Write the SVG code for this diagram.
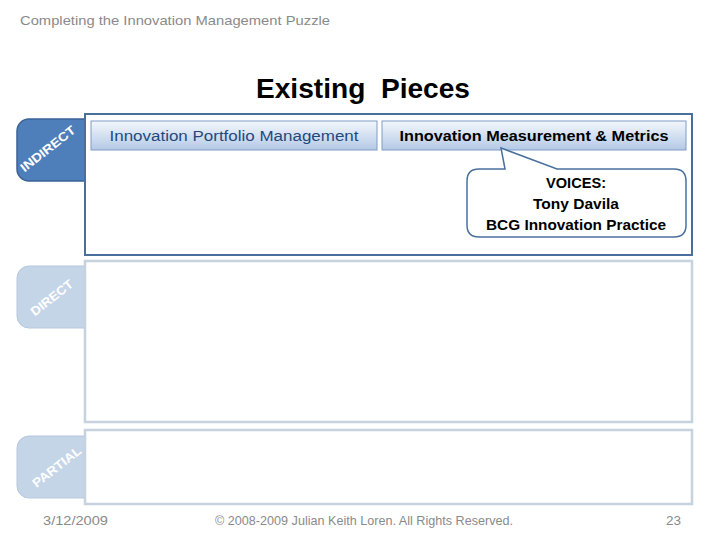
<svg xmlns="http://www.w3.org/2000/svg" width="728" height="546" viewBox="0 0 728 546">
<defs>
<linearGradient id="hdr" x1="0" y1="0" x2="0" y2="1">
<stop offset="0" stop-color="#f3f7fc"/>
<stop offset="1" stop-color="#b4c9e6"/>
</linearGradient>
<style>
text{font-family:"Liberation Sans","Open Sans",Arial,sans-serif}
.gray{fill:#8a8a8a;font-size:13.5px}
.tabtxt{fill:#ffffff;font-size:12.5px;font-weight:bold;text-anchor:middle}
.tabOn{fill:#4f7fbb;stroke:#3b6396;stroke-width:1.5}
.tabOff{fill:#c5d5e8;stroke:#b6c8dd;stroke-width:1}
.boxOff{fill:#ffffff;stroke:#c6d3df;stroke-width:2.5}
.hdr{fill:url(#hdr);stroke:#7f9cc5;stroke-width:1}
.voice{font-size:15px;font-weight:bold;fill:#000;text-anchor:middle}
</style>
</defs>
<rect width="728" height="546" fill="#ffffff"/>
<text class="gray" x="20" y="25" textLength="310" lengthAdjust="spacingAndGlyphs">Completing the Innovation Management Puzzle</text>
<text x="363" y="98" font-size="28" font-weight="bold" text-anchor="middle" fill="#000" textLength="214" lengthAdjust="spacingAndGlyphs" style="white-space:pre">Existing  Pieces</text>

<g id="indirect">
<rect class="tabOn" x="17" y="119" width="80" height="62" rx="12"/>
<text class="tabtxt" transform="translate(48,149) rotate(-38)" y="4" textLength="66" lengthAdjust="spacingAndGlyphs">INDIRECT</text>
<rect x="85" y="114" width="607" height="141" fill="#ffffff" stroke="#4a6f9c" stroke-width="2"/>
</g>
<g id="portfolio">
<rect class="hdr" x="91" y="121" width="286" height="29"/>
<text x="234" y="141" font-size="15.5" fill="#1f497d" text-anchor="middle" textLength="249" lengthAdjust="spacingAndGlyphs">Innovation Portfolio Management</text>
</g>
<g id="measurement">
<rect class="hdr" x="382" y="121" width="304" height="29"/>
<text x="534" y="141" font-size="15.5" font-weight="bold" fill="#000" text-anchor="middle" textLength="269" lengthAdjust="spacingAndGlyphs">Innovation Measurement &amp; Metrics</text>
</g>
<g id="voices">
<path d="M479,169 L505,169 L501,148 L557,169 L674,169 Q686,169 686,181 L686,225 Q686,237 674,237 L479,237 Q467,237 467,225 L467,181 Q467,169 479,169 Z" fill="#ffffff" stroke="#4a6f9c" stroke-width="1.5"/>
<text class="voice" x="576" y="188" textLength="60" lengthAdjust="spacingAndGlyphs">VOICES:</text>
<text class="voice" x="576" y="209" textLength="86" lengthAdjust="spacingAndGlyphs">Tony Davila</text>
<text class="voice" x="576" y="230" textLength="180" lengthAdjust="spacingAndGlyphs">BCG Innovation Practice</text>
</g>

<g id="direct">
<rect class="tabOff" x="17" y="266" width="80" height="62" rx="12"/>
<text class="tabtxt" transform="translate(52,298) rotate(-38)" y="4" textLength="50" lengthAdjust="spacingAndGlyphs">DIRECT</text>
<rect class="boxOff" x="85" y="261" width="607" height="161"/>
</g>

<g id="partial">
<rect class="tabOff" x="17" y="436" width="80" height="62" rx="12"/>
<text class="tabtxt" transform="translate(57,467) rotate(-38)" y="4" textLength="58" lengthAdjust="spacingAndGlyphs">PARTIAL</text>
<rect class="boxOff" x="85" y="430" width="607" height="74"/>
</g>

<g id="connectors"></g>

<text class="gray" x="43" y="525" textLength="65" lengthAdjust="spacingAndGlyphs">3/12/2009</text>
<text class="gray" x="215" y="525" textLength="298" lengthAdjust="spacingAndGlyphs">© 2008-2009 Julian Keith Loren. All Rights Reserved.</text>
<text class="gray" x="681" y="525" text-anchor="end">23</text>
</svg>
